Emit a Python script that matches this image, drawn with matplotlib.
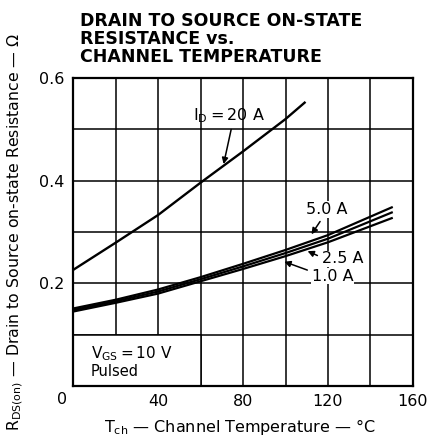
import matplotlib.pyplot as plt
from matplotlib.patches import Rectangle

# channel temperature (deg C) and on-state resistance (ohm)
t_20a = [0, 20, 40, 60, 80, 100, 109]
r_20a = [0.226, 0.279, 0.333, 0.396, 0.457, 0.520, 0.552]

t_low = [0, 20, 40, 60, 80, 100, 120, 150]
r_5a = [0.151, 0.168, 0.188, 0.212, 0.238, 0.265, 0.294, 0.348]
r_2a5 = [0.148, 0.165, 0.184, 0.208, 0.233, 0.259, 0.287, 0.338]
r_1a = [0.145, 0.162, 0.180, 0.204, 0.228, 0.253, 0.280, 0.327]

x_ticks = [0, 40, 80, 120, 160]
x_tick_labels = ["", "40", "80", "120", "160"]
y_ticks = [0.2, 0.4, 0.6]
y_tick_labels = ["0.2", "0.4", "0.6"]

fig = plt.figure(figsize=(4.46, 4.46), dpi=100)
ax = fig.add_axes([0.1637, 0.1345, 0.7623, 0.6906])

ax.set_xlim(0, 160)
ax.set_ylim(0, 0.6)

# grid every 20 deg / 0.1 ohm
for gx in range(20, 160, 20):
    ax.axvline(gx, color="black", lw=1.1, zorder=1)
for gy in [0.1, 0.2, 0.3, 0.4, 0.5]:
    ax.axhline(gy, color="black", lw=1.1, zorder=1)

# box with test conditions hides the grid in the lower left corner
ax.add_patch(Rectangle((0, 0), 60, 0.1, facecolor="white", edgecolor="black",
                       lw=1.1, zorder=2))
ax.text(8.5, 0.0545, r"V$_{\mathrm{GS}}$$=$10 V", fontsize=11, zorder=3)
ax.text(8.5, 0.0195, "Pulsed", fontsize=10.5, zorder=3)

ax.plot(t_20a, r_20a, color="black", lw=1.7, zorder=4)
ax.plot(t_low, r_5a, color="black", lw=1.6, zorder=4)
ax.plot(t_low, r_2a5, color="black", lw=1.6, zorder=4)
ax.plot(t_low, r_1a, color="black", lw=1.6, zorder=4)

arrow = dict(arrowstyle="-|>", color="black", lw=1.1, mutation_scale=9)
box = dict(facecolor="white", edgecolor="none", pad=0.5)
ax.annotate("", xy=(70.6, 0.427), xytext=(74.7, 0.505), arrowprops=arrow, zorder=5)
ax.text(56.5, 0.518, r"I$_{\mathrm{D}}$$=$20 A", fontsize=11.5, zorder=5)

ax.annotate("", xy=(111.5, 0.291), xytext=(117, 0.325), arrowprops=arrow, zorder=5)
ax.text(109.6, 0.335, "5.0 A", fontsize=11.5, bbox=box, zorder=5)
ax.annotate("", xy=(109.2, 0.265), xytext=(116.2, 0.252), arrowprops=arrow, zorder=5)
ax.text(117, 0.239, "2.5 A", fontsize=11.5, bbox=box, zorder=5)
ax.annotate("", xy=(98.2, 0.244), xytext=(111.5, 0.224), arrowprops=arrow, zorder=5)
ax.text(112.3, 0.205, "1.0 A", fontsize=11.5, bbox=box, zorder=5)

for s in ax.spines.values():
    s.set_linewidth(1.6)
    s.set_zorder(6)

ax.set_xticks(x_ticks)
ax.set_xticklabels(x_tick_labels)
ax.set_yticks(y_ticks)
ax.set_yticklabels(y_tick_labels)
ax.tick_params(length=0, labelsize=11.5, pad=6)
ax.text(-3, -0.012, "0", fontsize=11.5, ha="right", va="top")

fig.text(0.179, 0.972, "DRAIN TO SOURCE ON-STATE\nRESISTANCE vs.\nCHANNEL TEMPERATURE",
         fontsize=12.5, fontweight="bold", va="top", ha="left", linespacing=1.0)
fig.text(0.538, 0.043, r"T$_{\mathrm{ch}}$ — Channel Temperature — °C",
         fontsize=11.5, ha="center", va="center")
fig.text(0.035, 0.479, r"R$_{\mathrm{DS(on)}}$ — Drain to Source on-state Resistance — Ω",
         fontsize=11.3, ha="center", va="center", rotation=90)

fig.savefig("out.png", dpi=100)
